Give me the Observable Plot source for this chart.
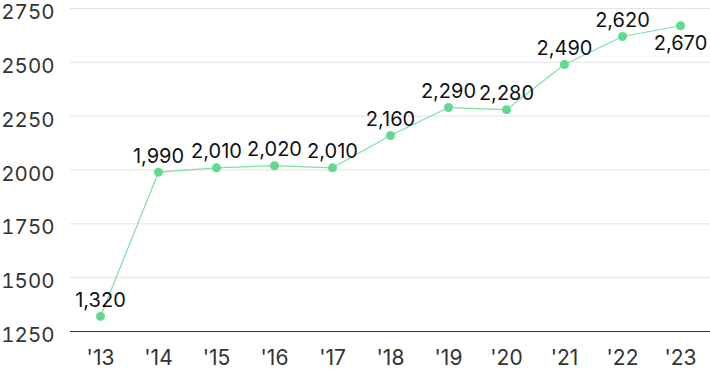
<!DOCTYPE html>
<html>
<head>
<meta charset="utf-8">
<script src="https://cdn.jsdelivr.net/npm/d3@7"></script>
<script src="https://cdn.jsdelivr.net/npm/@observablehq/plot@0.6"></script>
<style>
  html, body { margin: 0; padding: 0; background: #fff; }
  #chart svg { display: block; }
</style>
</head>
<body>
<div id="chart"></div>
<script>
const years = ["'13","'14","'15","'16","'17","'18","'19","'20","'21","'22","'23"];
const values = [1320, 1990, 2010, 2020, 2010, 2160, 2290, 2280, 2490, 2620, 2670];
const yTicks = [1250, 1500, 1750, 2000, 2250, 2500, 2750];
const labelBelow = ["'23"];

const data = years.map((y, i) => ({year: y, value: values[i]}));
const above = data.filter(d => !labelBelow.includes(d.year));
const below = data.filter(d => labelBelow.includes(d.year));

const chart = Plot.plot({
  width: 710,
  height: 371,
  marginLeft: 70,
  marginRight: 0,
  marginTop: 8,
  marginBottom: 40,
  style: {fontFamily: "Inter, sans-serif", background: "#fff"},
  x: {type: "point", domain: years, padding: 0.5, label: null},
  y: {domain: [1250, 2750], label: null},
  marks: [
    Plot.gridY(yTicks, {stroke: "#e3e3e3", strokeOpacity: 1, strokeWidth: 1}),
    Plot.axisY(yTicks, {tickSize: 0, tickPadding: 16, dy: 4, fontSize: 20.5, fill: "#333", tickFormat: d => String(d)}),
    Plot.axisX({tickSize: 0, tickPadding: 19, fontSize: 21, fill: "#333"}),
    Plot.ruleY([1250], {stroke: "#333", strokeWidth: 1.2}),
    Plot.line(data, {x: "year", y: "value", stroke: "#7ee0a2", strokeWidth: 1.2}),
    Plot.dot(data, {x: "year", y: "value", r: 4.5, fill: "#63d98f", stroke: "none"}),
    Plot.text(above, {x: "year", y: "value", text: d => d3.format(",")(d.value), dy: -16, fontSize: 20, fill: "#111"}),
    Plot.text(below, {x: "year", y: "value", text: d => d3.format(",")(d.value), dy: 18, fontSize: 20, fill: "#111"})
  ]
});
document.getElementById("chart").appendChild(chart);
</script>
</body>
</html>
